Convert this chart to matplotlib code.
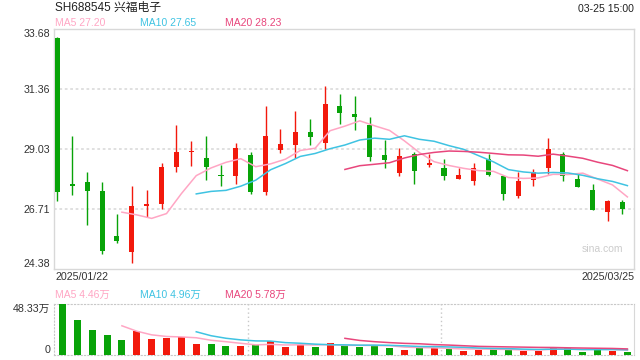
import numpy as np
import matplotlib
matplotlib.use('Agg')
import matplotlib.pyplot as plt

plt.rcParams['font.family'] = ['Liberation Sans', 'Noto Sans CJK SC', 'DejaVu Sans']

code = 'SH688545'
name = '兴福电子'
stamp = '03-25 15:00'
first_day = '2025/01/22'
last_day = '2025/03/25'

# daily prices, 2025/01/22 .. 2025/03/25
opens = [33.32, 27.70, 27.78, 27.43, 25.69, 25.04, 26.85, 26.90, 28.34, 28.94,
         28.71, 28.03, 27.99, 28.79, 27.39, 29.00, 29.19, 29.68, 29.29, 30.69,
         30.38, 29.98, 28.79, 28.10, 28.85, 28.41, 28.29, 27.87, 27.79, 28.65,
         28.01, 27.21, 27.83, 28.30, 28.83, 27.86, 27.47, 26.59, 26.98]
highs = [33.38, 29.55, 28.16, 27.78, 26.52, 27.60, 27.47, 28.49, 29.98, 29.36,
         29.56, 28.43, 29.29, 28.93, 30.71, 29.80, 30.49, 30.20, 31.46, 31.15,
         31.08, 30.26, 29.37, 29.07, 28.93, 28.84, 28.67, 28.29, 28.49, 28.85,
         28.01, 28.14, 28.27, 29.47, 28.94, 28.07, 27.70, 27.06, 27.08]
lows = [27.01, 27.25, 26.09, 24.99, 25.39, 24.62, 26.41, 26.73, 28.14, 28.38,
        27.83, 27.60, 27.70, 27.29, 27.26, 28.87, 28.70, 29.19, 29.02, 30.00,
        29.77, 28.57, 28.30, 28.01, 27.70, 28.36, 27.83, 27.87, 27.64, 27.99,
        27.08, 27.15, 27.61, 28.07, 27.82, 27.56, 26.67, 26.24, 26.52]
closes = [27.37, 27.60, 27.43, 25.08, 25.50, 26.85, 26.92, 28.36, 28.94, 28.98,
          28.34, 28.00, 29.06, 27.39, 29.53, 29.25, 29.68, 29.50, 30.77, 30.42,
          30.27, 28.72, 28.61, 28.75, 28.18, 28.48, 27.99, 28.05, 28.32, 28.03,
          27.29, 27.82, 28.14, 29.02, 27.99, 27.56, 26.67, 27.01, 26.70]
# volume in 万
volumes = [48.33, 32.9, 24.2, 19.3, 14.5, 22.6, 15.5, 16.4, 17.1, 10.6,
           10.6, 8.7, 8.7, 9.7, 12.9, 7.7, 9.7, 7.7, 11.7, 9.1,
           7.8, 9.1, 6.8, 4.9, 6.8, 6.8, 6.2, 3.9, 4.9, 5.7,
           5.7, 4.1, 4.1, 7.7, 6.9, 3.0, 5.6, 4.0, 3.0]

price_ticks = [24.38, 26.71, 29.03, 31.36, 33.68]
vol_top = 48.33
ma_days = [5, 10, 20]
ma_last = [27.20, 27.65, 28.23]
vol_ma_last = [4.46, 4.96, 5.78]

up = '#f2190c'
down = '#08a308'
ma_colors = ['#ffa6c4', '#3fc3e2', '#e8467c']
grid_c = '#dddddd'

fig = plt.figure(figsize=(6.4, 3.6), dpi=100)
ax = fig.add_axes([0.0848, 0.2514, 0.9062, 0.6681])
axv = fig.add_axes([0.0848, 0.0139, 0.9062, 0.1408])

n = len(closes)
x = np.arange(n)
shift = 0.336  # candles are drawn a bit left of the MA / volume points
colors = [up if c >= o else down for o, c in zip(opens, closes)]

# candles
for i in range(n):
    o, c = opens[i], closes[i]
    ax.vlines(x[i] - shift, lows[i], highs[i], color=colors[i], lw=1, zorder=3)
    ax.bar(x[i] - shift, max(abs(c - o), 0.035), bottom=min(o, c), width=0.34,
           color=colors[i], zorder=4)

for k, col in zip(ma_days, ma_colors):
    ma = np.convolve(closes, np.ones(k) / k, mode='valid')
    ax.plot(x[k - 1:], ma, color=col, lw=1.1, zorder=5)

for t in price_ticks[1:-1]:
    ax.axhline(t, color=grid_c, lw=1.3, ls=(0, (1.5, 1.5)), zorder=0)

ax.set_xlim(-0.55, n - 0.54)
ax.set_ylim(price_ticks[0], price_ticks[-1])
ax.set_xticks([])
ax.set_yticks(price_ticks)
ax.set_yticklabels([f'{t:.2f}' for t in price_ticks])
ax.tick_params(axis='y', length=0, pad=3, labelsize=7.7, labelcolor='#333333')
labs = ax.get_yticklabels()
labs[0].set_va('bottom')
labs[-1].set_va('top')
for s in ax.spines.values():
    s.set_color('#d8d8d8')
    s.set_linewidth(1)
ax.text(0.9805, 0.085, 'sina.com', transform=ax.transAxes, ha='right',
        va='center', color='#cccccc', fontsize=7.5)

# volume
axv.bar(x, volumes, width=0.47, color=colors, zorder=3)
for k, col in zip(ma_days, ma_colors):
    ma = np.convolve(volumes, np.ones(k) / k, mode='valid')
    axv.plot(x[k - 1:], ma, color=col, lw=1.1, zorder=4)
axv.set_xlim(-0.55, n - 0.54)
axv.set_ylim(0, vol_top)
axv.set_xticks([])
axv.set_yticks([0, vol_top])
axv.set_yticklabels(['0', f'{vol_top:.2f}万'])
axv.tick_params(axis='y', length=0, pad=3, labelsize=7.7, labelcolor='#333333')
vl = axv.get_yticklabels()
vl[0].set_va('bottom')
vl[1].set_va('top')
dot = (0, (1, 2))
for s in ['top', 'bottom', 'left']:
    axv.spines[s].set_color('#c8c8c8')
    axv.spines[s].set_linestyle(dot)
axv.spines['right'].set_color('#d8d8d8')
for fx in [1 / 3, 2 / 3]:
    axv.plot([fx, fx], [0, 1], transform=axv.transAxes, color='#c8c8c8',
             lw=1, ls=dot, zorder=1)

# header and labels
fig.text(55 / 640, 1 - 8 / 360, f'{code} {name}', fontsize=8.5, color='#222222',
         ha='left', va='center')
fig.text(634 / 640, 1 - 8.5 / 360, stamp, fontsize=7.6, color='#222222',
         ha='right', va='center')
legend_x = [55, 140, 225]
for lx, k, v, col in zip(legend_x, ma_days, ma_last, ma_colors):
    fig.text(lx / 640, 1 - 23.5 / 360, f'MA{k} {v:.2f}', fontsize=7.5, color=col,
             ha='left', va='center')
for lx, k, v, col in zip(legend_x, ma_days, vol_ma_last, ma_colors):
    fig.text(lx / 640, 1 - 294.5 / 360, f'MA{k} {v:.2f}万', fontsize=7.5, color=col,
             ha='left', va='center')
fig.text(55 / 640, 1 - 277.5 / 360, first_day, fontsize=7.7, color='#333333',
         ha='left', va='center')
fig.text(634 / 640, 1 - 277.5 / 360, last_day, fontsize=7.7, color='#333333',
         ha='right', va='center')

fig.savefig('out.png', dpi=100)
